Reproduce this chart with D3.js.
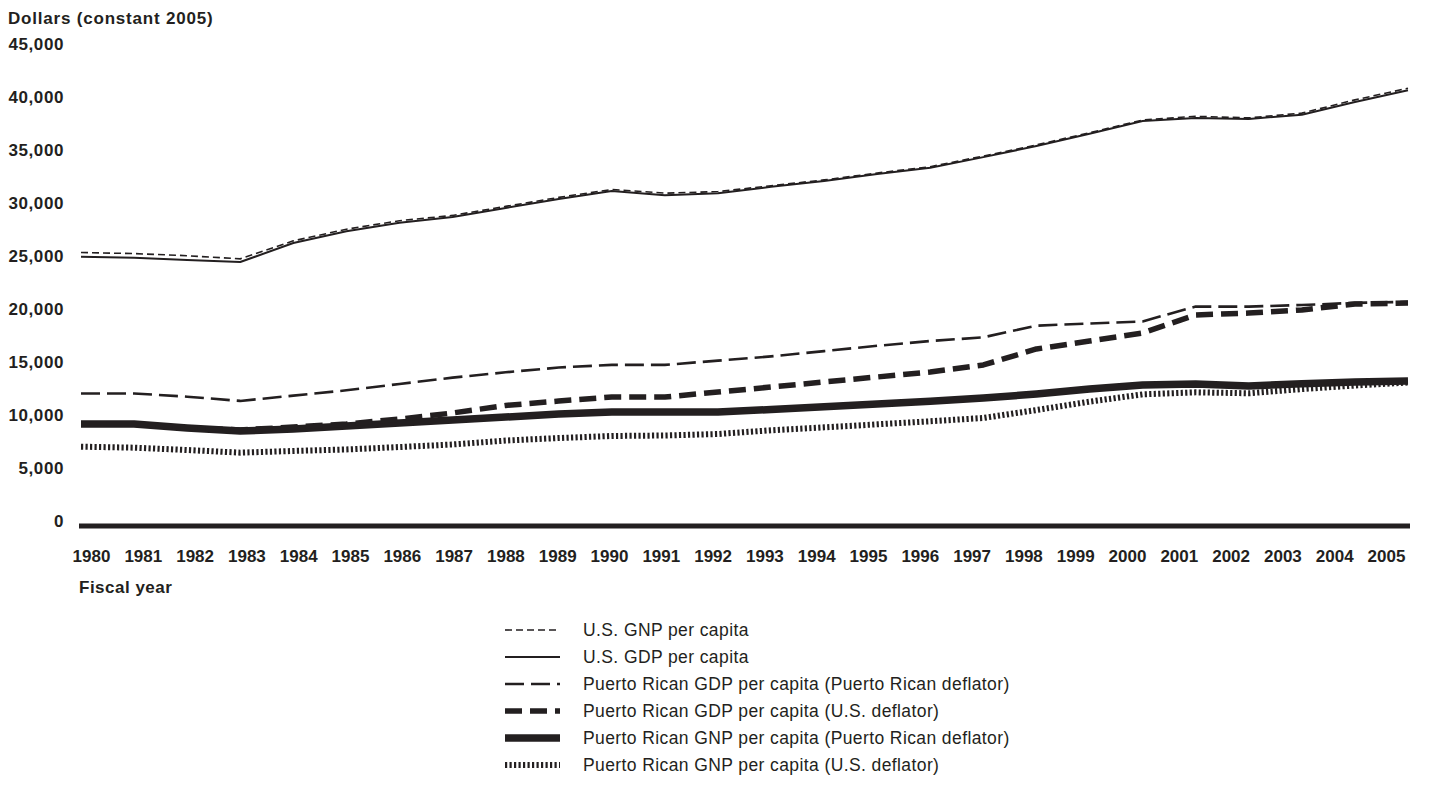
<!DOCTYPE html>
<html>
<head>
<meta charset="utf-8">
<script src="https://cdn.jsdelivr.net/npm/d3@7"></script>
<style>
  html, body { margin: 0; padding: 0; background: #fff; }
  svg { display: block; font-family: "Liberation Sans", Arial, Helvetica, sans-serif; }
</style>
</head>
<body>
<svg id="chart" width="1431" height="786"></svg>
<script>
// ---- Data ----
const years = [1980,1981,1982,1983,1984,1985,1986,1987,1988,1989,1990,1991,1992,
               1993,1994,1995,1996,1997,1998,1999,2000,2001,2002,2003,2004,2005];

const usGnp = [25800,25700,25500,25200,26900,28000,28800,29300,30150,31000,31750,31400,31550,
               32100,32650,33300,33900,34900,35950,37100,38300,38650,38500,38950,40200,41300];
const usGdp = [25400,25300,25100,24900,26700,27800,28600,29150,30000,30850,31600,31200,31400,
               32000,32550,33200,33800,34800,35850,37000,38200,38500,38400,38800,40000,41100];
const prGdpPrDef = [12500,12500,12200,11800,12300,12800,13400,14000,14500,14950,15200,15200,15600,
                    16000,16500,17000,17450,17800,18900,19100,19300,20700,20700,20850,21050,21150];
const prGdpUsDef = [9620,9620,9250,9060,9340,9620,10090,10660,11370,11790,12170,12170,12640,
                    13110,13590,14060,14530,15190,16700,17450,18210,19910,20090,20380,20940,21040];
const prGnpPrDef = [9620,9620,9250,8960,9150,9430,9720,10000,10280,10570,10750,10750,10750,
                    10990,11250,11510,11760,12080,12450,12920,13300,13400,13210,13420,13590,13680];
const prGnpUsDef = [7480,7390,7170,6920,7080,7220,7450,7690,8060,8300,8490,8540,8680,
                    9030,9310,9590,9880,10190,10940,11730,12420,12610,12520,12920,13250,13540];

const yTicks = [0,5000,10000,15000,20000,25000,30000,35000,40000,45000];
const yTitle = "Dollars (constant 2005)";
const xTitle = "Fiscal year";

const seriesNames = [
  "U.S. GNP per capita",
  "U.S. GDP per capita",
  "Puerto Rican GDP per capita (Puerto Rican deflator)",
  "Puerto Rican GDP per capita (U.S. deflator)",
  "Puerto Rican GNP per capita (Puerto Rican deflator)",
  "Puerto Rican GNP per capita (U.S. deflator)"
];
const seriesValues = [usGnp, usGdp, prGdpPrDef, prGdpUsDef, prGnpPrDef, prGnpUsDef];

// ---- Styles ----
const ink = "#231f20";
const styles = [
  { width: 1.6, dash: "7,4" },
  { width: 2.0, dash: null },
  { width: 2.6, dash: "19,7" },
  { width: 5.5, dash: "17,8" },
  { width: 7.5, dash: null },
  { width: 6.0, dash: "2.2,2.3" }
];
const drawOrder = [4, 5, 3, 2, 1, 0];

const svg = d3.select("#chart");

// ---- Scales ----
const x = d3.scaleLinear().domain([1980, 2005]).range([81, 1408]);
const xLabel = d3.scalePoint().domain(years).range([91, 1386]);
const y = d3.scaleLinear().domain([0, 45000]).range([526, 49]);

// ---- Title ----
svg.append("text")
  .attr("x", 8).attr("y", 24)
  .attr("font-size", 17).attr("font-weight", "bold")
  .attr("letter-spacing", "0.8px")
  .attr("fill", ink)
  .text(yTitle);

// ---- Y axis labels ----
const yAxis = d3.axisLeft(y).tickValues(yTicks).tickFormat(d3.format(",")).tickSize(0).tickPadding(3);
const gy = svg.append("g").attr("transform", "translate(67,0)").call(yAxis);
gy.select(".domain").remove();
gy.selectAll("text")
  .attr("dy", "0")
  .attr("font-size", 17).attr("font-weight", "bold")
  .attr("letter-spacing", "0.6px")
  .attr("font-family", "Liberation Sans, Arial, sans-serif")
  .attr("fill", ink);

// ---- X axis labels ----
const xAxis = d3.axisBottom(xLabel).tickSize(0).tickPadding(0);
const gx = svg.append("g").attr("transform", "translate(0,562)").call(xAxis);
gx.select(".domain").remove();
gx.selectAll("text")
  .attr("y", 0).attr("dy", "0")
  .attr("font-size", 17).attr("font-weight", "bold")
  .attr("font-family", "Liberation Sans, Arial, sans-serif")
  .attr("fill", ink);

svg.append("text")
  .attr("x", 79).attr("y", 593)
  .attr("font-size", 17).attr("font-weight", "bold")
  .attr("letter-spacing", "0.5px")
  .attr("fill", ink)
  .text(xTitle);

// ---- Zero baseline ----
svg.append("line")
  .attr("x1", x(1980) - 2).attr("x2", x(2005) + 2)
  .attr("y1", y(0)).attr("y2", y(0))
  .attr("stroke", ink).attr("stroke-width", 5);

// ---- Lines ----
const line = d3.line().x((d, i) => x(years[i])).y(d => y(d));
drawOrder.forEach(k => {
  svg.append("path")
    .datum(seriesValues[k])
    .attr("d", line)
    .attr("fill", "none")
    .attr("stroke", ink)
    .attr("stroke-width", styles[k].width)
    .attr("stroke-dasharray", styles[k].dash)
    .attr("stroke-linejoin", "round");
});

// ---- Legend ----
const legend = svg.append("g");
seriesNames.forEach((name, i) => {
  const cy = 630 + i * 27;
  legend.append("line")
    .attr("x1", 505).attr("x2", 560)
    .attr("y1", cy).attr("y2", cy)
    .attr("stroke", ink)
    .attr("stroke-width", styles[i].width)
    .attr("stroke-dasharray", styles[i].dash);
  legend.append("text")
    .attr("x", 583).attr("y", cy + 6)
    .attr("font-size", 17.5)
    .attr("letter-spacing", "0.4px")
    .attr("fill", ink)
    .text(name);
});
</script>
</body>
</html>
